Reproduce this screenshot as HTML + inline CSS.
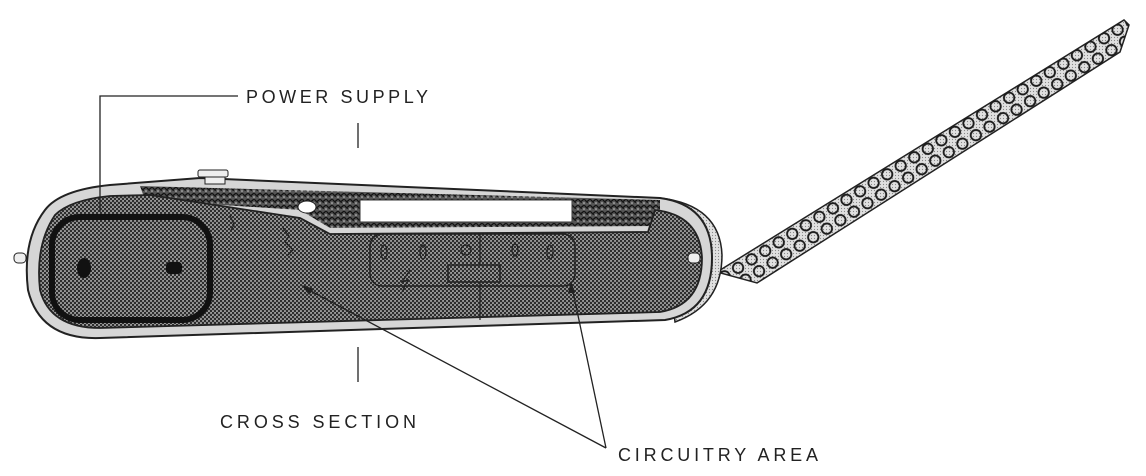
<!DOCTYPE html>
<html><head><style>
html,body{margin:0;padding:0;background:#fff;}
svg{display:block;}
text{font-family:"Liberation Sans","DejaVu Sans",sans-serif;font-size:18px;fill:#222;}
</style></head><body>
<svg width="1146" height="476" viewBox="0 0 1146 476" xmlns="http://www.w3.org/2000/svg">
<defs>
<pattern id="dots" width="4" height="4" patternUnits="userSpaceOnUse">
<rect width="4" height="4" fill="#9a9a9a"/><circle cx="1" cy="1" r="1.2" fill="#2a2a2a"/><circle cx="3" cy="3" r="1.2" fill="#2a2a2a"/>
</pattern>
<pattern id="light" width="3" height="3" patternUnits="userSpaceOnUse">
<rect width="3" height="3" fill="#e0e0e0"/><circle cx="1.5" cy="1.5" r="0.6" fill="#888"/>
</pattern>
<pattern id="dark" width="6" height="6" patternUnits="userSpaceOnUse">
<rect width="6" height="6" fill="#555"/><path d="M0 3 Q2 0 4 3 T6 2" stroke="#111" stroke-width="1.3" fill="none"/><circle cx="2" cy="5" r="0.8" fill="#ccc"/>
</pattern>
<pattern id="holes" width="16" height="14" patternUnits="userSpaceOnUse" patternTransform="translate(735,278) rotate(-32.1)">
<circle cx="8" cy="7" r="5.2" fill="none" stroke="#1a1a1a" stroke-width="1.8"/>
</pattern>
<clipPath id="sc"><polygon points="717,272 1124,20 1129,25 1120,52 757,283"/></clipPath>
</defs>

<!-- strap -->
<polygon points="717,272 1124,20 1129,25 1120,52 757,283" fill="url(#light)" stroke="#222" stroke-width="1.5"/>
<rect x="700" y="0" width="446" height="300" fill="url(#holes)" clip-path="url(#sc)"/>

<!-- right end cap -->
<path d="M660,198 Q720,205 722,255 Q722,305 675,322 Z" fill="url(#light)" stroke="#222" stroke-width="1.5"/>

<!-- body outer -->
<path d="M45,210 Q60,190 110,185 L200,178 L660,198 Q712,205 712,258 Q712,312 665,320 L100,338 Q40,340 28,290 Q22,240 45,210 Z" fill="#d6d6d6" stroke="#222" stroke-width="2"/>
<path d="M140,186 L660,200 L660,226 L330,228 L300,210 L145,200 Z" fill="url(#dark)"/>
<rect x="360" y="200" width="212" height="22" fill="#fff" stroke="#333" stroke-width="1"/>
<path d="M55,215 Q70,200 110,196 L150,195 L300,218 L330,234 L648,232 L655,210 Q700,215 702,258 Q702,305 660,312 L100,328 Q50,328 40,290 Q35,245 55,215 Z" fill="url(#dots)" stroke="#222" stroke-width="1.8"/>
<rect x="205" y="177" width="20" height="7" fill="#eee" stroke="#222"/>
<rect x="198" y="170" width="30" height="7" rx="2" fill="#eee" stroke="#222"/>
<ellipse cx="307" cy="207" rx="9" ry="6" fill="#fff" stroke="#222"/>
<rect x="14" y="253" width="12" height="10" rx="4" fill="#eee" stroke="#222"/>
<rect x="688" y="253" width="12" height="10" rx="4" fill="#eee" stroke="#222"/>
<rect x="52" y="217" width="158" height="103" rx="28" fill="none" stroke="#111" stroke-width="6"/>
<ellipse cx="84" cy="268" rx="7" ry="10" fill="#111"/>
<rect x="166" y="262" width="16" height="12" rx="4" fill="#111"/>
<rect x="370" y="234" width="205" height="52" rx="12" fill="none" stroke="#222" stroke-width="1.5"/>
<line x1="480" y1="234" x2="480" y2="320" stroke="#222" stroke-width="1.2"/>
<rect x="448" y="265" width="52" height="17" fill="url(#dots)" stroke="#222" stroke-width="1.5"/>
<g fill="none" stroke="#222" stroke-width="1.2">
<ellipse cx="384" cy="252" rx="3" ry="7"/><ellipse cx="423" cy="252" rx="3" ry="7"/><circle cx="466" cy="250" r="5"/><ellipse cx="515" cy="250" rx="3" ry="6"/><ellipse cx="550" cy="252" rx="3" ry="7"/>
<path d="M283,228 l6,8 -4,6 8,8 -6,6"/><path d="M230,215 l4,10 -3,5"/><path d="M410,270 l-8,12 6,-2 -6,12"/>
</g>

<g stroke="#222" stroke-width="1.3" fill="none">
<path d="M238,96 L100,96 L100,212"/>
<line x1="358" y1="123" x2="358" y2="148"/>
<line x1="358" y1="347" x2="358" y2="382"/>
<line x1="606" y1="448" x2="307" y2="289"/>
<line x1="606" y1="448" x2="572" y2="287"/>
</g>
<polygon points="302,285 314,289 309,295" fill="#222"/>
<polygon points="571,281 575,293 568,293" fill="#222"/>

<text x="246" y="103" textLength="182" lengthAdjust="spacing">POWER SUPPLY</text>
<text x="220" y="428" textLength="196" lengthAdjust="spacing">CROSS SECTION</text>
<text x="618" y="461" textLength="200" lengthAdjust="spacing">CIRCUITRY AREA</text>
</svg>
</body></html>
